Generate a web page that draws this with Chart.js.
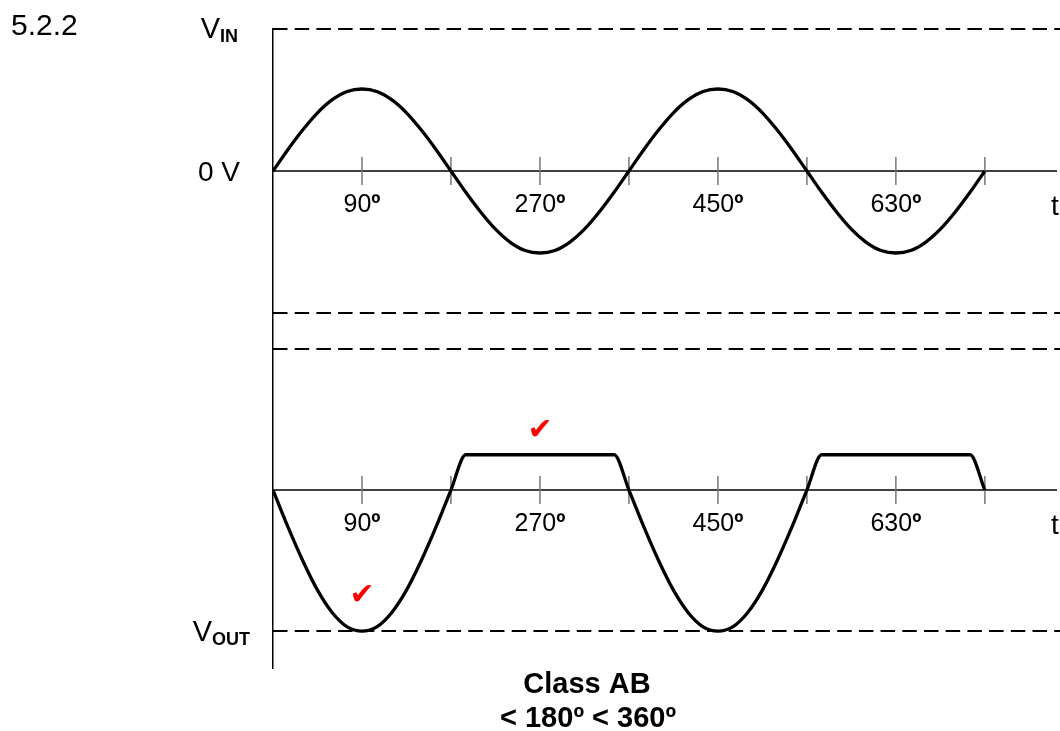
<!DOCTYPE html>
<html>
<head>
<meta charset="utf-8">
<title>Class AB</title>
<script src="https://cdn.jsdelivr.net/npm/chart.js@4.4.1/dist/chart.umd.min.js"></script>
<style>
  html, body { margin: 0; padding: 0; background: #fff; }
  #wave { display: block; }
</style>
</head>
<body>
<canvas id="wave" width="1060" height="731"></canvas>
<script>
// phase angle of every sample, in degrees
const angles = [0, 15, 30, 45, 60, 75, 90, 105, 120, 135, 150, 165, 180,
  195, 210, 225, 240, 255, 270, 285, 300, 315, 330, 345, 360,
  375, 390, 405, 420, 435, 450, 465, 480, 495, 510, 525, 540,
  555, 570, 585, 600, 615, 630, 645, 660, 675, 690, 705, 720];

// input signal (peak = 1)
const vIn = [0, 0.26, 0.5, 0.71, 0.87, 0.97, 1, 0.97, 0.87, 0.71, 0.5, 0.26, 0,
  -0.26, -0.5, -0.71, -0.87, -0.97, -1, -0.97, -0.87, -0.71, -0.5, -0.26, 0,
  0.26, 0.5, 0.71, 0.87, 0.97, 1, 0.97, 0.87, 0.71, 0.5, 0.26, 0,
  -0.26, -0.5, -0.71, -0.87, -0.97, -1, -0.97, -0.87, -0.71, -0.5, -0.26, 0];

// output signal: inverted, full swing down, clipped going up
const vOut = [0, -0.26, -0.5, -0.71, -0.87, -0.97, -1, -0.97, -0.87, -0.71, -0.5, -0.26, 0,
  0.25, 0.25, 0.25, 0.25, 0.25, 0.25, 0.25, 0.25, 0.25, 0.25, 0.25, 0,
  -0.26, -0.5, -0.71, -0.87, -0.97, -1, -0.97, -0.87, -0.71, -0.5, -0.26, 0,
  0.25, 0.25, 0.25, 0.25, 0.25, 0.25, 0.25, 0.25, 0.25, 0.25, 0.25, 0];

const tickAngles = [90, 180, 270, 360, 450, 540, 630, 720];
const labelAngles = [90, 270, 450, 630];
const tickLabels = ['90', '270', '450', '630'];

// reference levels of the two traces
const inLevels = [1.732, -1.732];
const outLevels = [1, -1];
// ticks on the output trace
const checks = [[270, 0.42], [90, -0.75]];

const axisEnd = 793;
const xMax = 796;

function pts(xs, ys) {
  return xs.map((x, i) => ({ x: x, y: ys[i] }));
}
function hLine(y, x1) {
  return [{ x: 0, y: y }, { x: x1, y: y }];
}

const curveStyle = {
  borderColor: '#000', borderWidth: 3.3, pointRadius: 0,
  cubicInterpolationMode: 'monotone', fill: false, order: 0
};
const zeroStyle = { borderColor: '#000', borderWidth: 1.6, pointRadius: 0, clip: false, order: 2 };
const dashStyle = {
  borderColor: '#000', borderWidth: 2, pointRadius: 0, borderDash: [14.5, 7.2],
  borderCapStyle: 'butt', clip: false, order: 2
};
const tickStyle = {
  showLine: false, pointStyle: 'line', rotation: 90, pointRadius: 14,
  pointBorderColor: '#777', pointBorderWidth: 1.5, pointBackgroundColor: '#777', order: 1
};

const datasets = [
  Object.assign({ data: pts(angles, vIn), yAxisID: 'yIn' }, curveStyle),
  Object.assign({ data: pts(angles, vOut), yAxisID: 'yOut' }, curveStyle),
  Object.assign({ data: hLine(0, axisEnd), yAxisID: 'yIn' }, zeroStyle),
  Object.assign({ data: hLine(0, axisEnd), yAxisID: 'yOut' }, zeroStyle),
  Object.assign({ data: tickAngles.map(a => ({ x: a, y: 0 })), yAxisID: 'yIn' }, tickStyle),
  Object.assign({ data: tickAngles.map(a => ({ x: a, y: 0 })), yAxisID: 'yOut' }, tickStyle)
];
inLevels.forEach(l => datasets.push(Object.assign({ data: hLine(l, xMax), yAxisID: 'yIn' }, dashStyle)));
outLevels.forEach(l => datasets.push(Object.assign({ data: hLine(l, xMax), yAxisID: 'yOut' }, dashStyle)));

// V with a bold subscript, right aligned at xr
function subLabel(ctx, main, sub, xr, base) {
  ctx.font = '29px "Liberation Sans"';
  const w1 = ctx.measureText(main).width;
  ctx.font = 'bold 18px "Liberation Sans"';
  const w2 = ctx.measureText(sub).width;
  ctx.textAlign = 'left';
  ctx.font = '29px "Liberation Sans"';
  ctx.fillText(main, xr - w1 - w2, base);
  ctx.font = 'bold 18px "Liberation Sans"';
  ctx.fillText(sub, xr - w2, base + 4);
}

// number with a bold degree sign, centred on cx
function degLabel(ctx, txt, cx, base) {
  ctx.font = '25px "Liberation Sans"';
  const w1 = ctx.measureText(txt).width;
  ctx.font = 'bold 25px "Liberation Sans"';
  const w2 = ctx.measureText('º').width;
  const x0 = cx - (w1 + w2) / 2;
  ctx.textAlign = 'left';
  ctx.font = '25px "Liberation Sans"';
  ctx.fillText(txt, x0, base);
  ctx.font = 'bold 25px "Liberation Sans"';
  ctx.fillText('º', x0 + w1, base);
}

const labelPlugin = {
  id: 'waveLabels',
  afterDraw(chart) {
    const ctx = chart.ctx;
    const x = chart.scales.x, yi = chart.scales.yIn, yo = chart.scales.yOut;
    const z1 = yi.getPixelForValue(0), z2 = yo.getPixelForValue(0);
    ctx.save();
    ctx.fillStyle = '#000';
    ctx.textBaseline = 'alphabetic';

    ctx.font = '30px "Liberation Sans"';
    ctx.textAlign = 'left';
    ctx.fillText('5.2.2', 11, 35);

    subLabel(ctx, 'V', 'IN', 238, yi.getPixelForValue(inLevels[0]) + 9);
    subLabel(ctx, 'V', 'OUT', 250, yo.getPixelForValue(outLevels[1]) + 10);

    ctx.font = '28px "Liberation Sans"';
    ctx.textAlign = 'right';
    ctx.fillText('0 V', 240, z1 + 10);

    tickLabels.forEach((t, i) => {
      const px = x.getPixelForValue(labelAngles[i]);
      degLabel(ctx, t, px, z1 + 41);
      degLabel(ctx, t, px, z2 + 41);
    });

    ctx.font = '28px "Liberation Sans"';
    ctx.textAlign = 'left';
    ctx.fillText('t', 1051, z1 + 44);
    ctx.fillText('t', 1051, z2 + 44);

    // red check marks
    ctx.fillStyle = '#ff0000';
    ctx.font = '30px "DejaVu Sans"';
    ctx.textAlign = 'center';
    ctx.textBaseline = 'middle';
    checks.forEach(c => {
      ctx.fillText('✔', x.getPixelForValue(c[0]), yo.getPixelForValue(c[1]));
    });

    ctx.fillStyle = '#000';
    ctx.textBaseline = 'alphabetic';
    ctx.font = 'bold 29px "Liberation Sans"';
    ctx.fillText('Class AB', 587, 693);
    ctx.fillText('< 180º < 360º', 588, 727);
    ctx.restore();
  }
};

const yAxisBase = {
  type: 'linear', position: 'left', stack: 'wave',
  grid: { display: false, drawTicks: false },
  ticks: { display: false },
  border: { display: true, color: '#000', width: 1.5 }
};

new Chart(document.getElementById('wave').getContext('2d'), {
  type: 'line',
  data: { datasets: datasets },
  options: {
    responsive: false,
    animation: false,
    layout: { autoPadding: false, padding: { left: 273, right: 0, top: 29, bottom: 63 } },
    plugins: { legend: { display: false }, tooltip: { enabled: false } },
    scales: {
      x: { type: 'linear', min: 0, max: xMax, display: false },
      yOut: Object.assign({}, yAxisBase, { min: -1.262, max: 1, stackWeight: 319, weight: 1 }),
      yIn: Object.assign({}, yAxisBase, { min: -2.171, max: 1.732, stackWeight: 320, weight: 2 })
    }
  },
  plugins: [labelPlugin]
});
</script>
</body>
</html>
